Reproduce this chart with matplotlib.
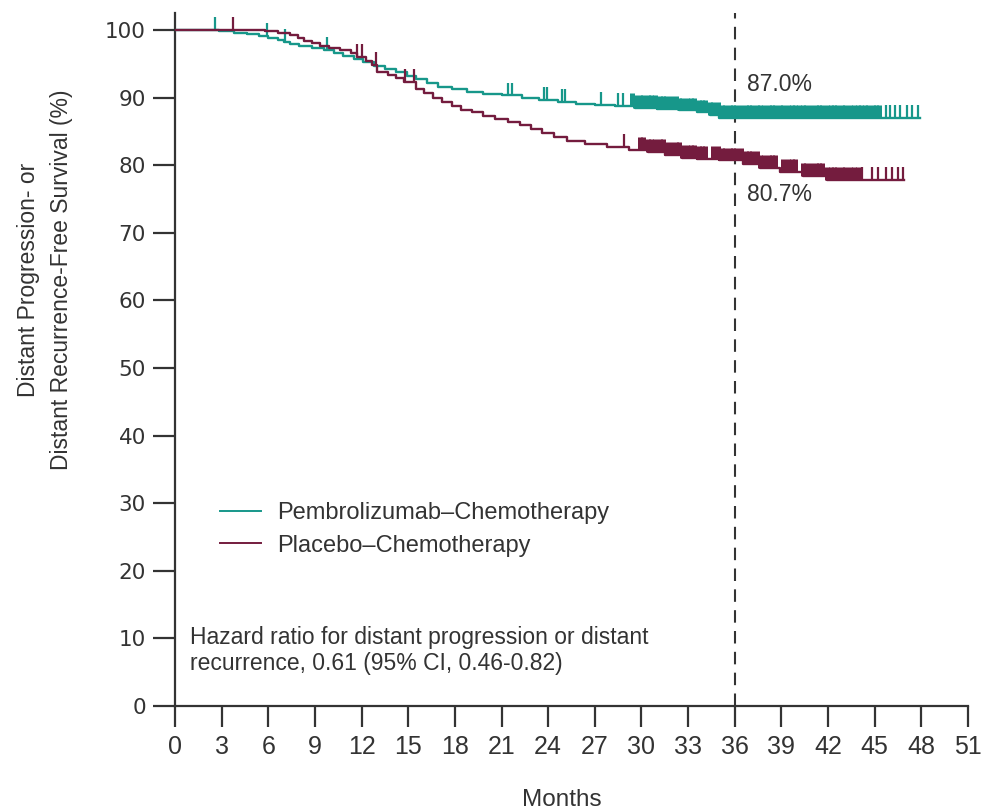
import numpy as np
import matplotlib
matplotlib.use("Agg")
import matplotlib.pyplot as plt
from matplotlib import font_manager

# ---------------- data ----------------
teal_t = [0, 2.8, 3.8, 4.6, 5.4, 6.0, 6.6, 7.0, 7.4, 8.0, 8.8, 9.6, 10.2, 10.8, 11.5, 12.1,
          12.8, 13.5, 14.2, 14.9, 15.5, 16.2, 16.9, 17.8, 18.8, 19.8, 21.0, 22.3, 23.4, 24.6,
          25.8, 27.0, 28.3, 29.6, 31.0, 32.4, 33.6, 34.4, 35.0]
teal_s = [100, 99.8, 99.6, 99.4, 99.1, 98.8, 98.5, 98.2, 97.9, 97.6, 97.3, 97.0, 96.6, 96.2,
          95.7, 95.2, 94.7, 94.2, 93.7, 93.2, 92.7, 92.2, 91.6, 91.2, 90.8, 90.5, 90.3, 89.9,
          89.6, 89.3, 89.1, 88.9, 88.7, 88.5, 88.3, 88.1, 87.8, 87.4, 87.0]
teal_end = 47.9

maroon_t = [0, 5.8, 6.6, 7.4, 7.9, 8.3, 8.8, 9.3, 9.9, 10.6, 11.3, 11.7, 12.3, 12.7, 13.0,
            13.7, 14.2, 14.7, 15.5, 16.0, 16.6, 17.2, 17.8, 18.4, 19.1, 19.8, 20.6, 21.4,
            22.2, 22.9, 23.6, 24.4, 25.2, 26.4, 27.8, 29.2, 30.4, 31.5, 32.6, 33.6, 35.0,
            36.5, 37.6, 38.9, 40.4, 41.9]
maroon_s = [100, 99.8, 99.5, 99.2, 98.8, 98.4, 98.0, 97.6, 97.3, 97.0, 96.6, 96.0, 95.4, 94.8,
            93.8, 93.4, 92.9, 92.3, 91.2, 90.6, 90.0, 89.4, 88.8, 88.2, 87.8, 87.3, 86.8,
            86.4, 86.0, 85.3, 84.7, 84.1, 83.5, 83.1, 82.7, 82.3, 81.9, 81.5, 81.1, 80.9,
            80.7, 80.2, 79.6, 79.0, 78.4, 77.8]
maroon_end = 46.9

# censored observations: isolated ones, then the dense run after ~29 months
teal_censor_sparse = [2.6, 5.9, 7.1, 9.8, 21.4, 21.7, 23.7, 23.9, 24.9, 25.1, 27.4, 28.5,
                      28.8, 45.7, 46.0, 46.3, 46.6, 47.1, 47.4, 47.8]
teal_censor_dense = [29.4, 29.6, 29.9, 30.1, 30.4, 30.6, 30.9, 31.2, 31.4, 31.6, 31.9, 32.2,
                     32.4, 32.6, 32.9, 33.2, 33.4, 33.7, 33.9, 34.1, 34.4, 34.6, 34.9, 35.2,
                     35.4, 35.7, 35.9, 36.1, 36.4, 36.7, 36.9, 37.1, 37.4, 37.6, 37.9, 38.2,
                     38.4, 38.6, 38.9, 39.1, 39.4, 39.7, 39.9, 40.1, 40.4, 40.6, 40.9, 41.2,
                     41.4, 41.6, 41.9, 42.2, 42.4, 42.6, 42.9, 43.1, 43.4, 43.7, 43.9, 44.1,
                     44.4, 44.6, 44.9, 45.1, 45.3]
maroon_censor_sparse = [3.7, 11.7, 12.0, 12.9, 14.8, 15.4, 28.9, 44.2, 44.8, 45.2, 45.7,
                        46.1, 46.5, 46.8]
maroon_censor_dense = [29.9, 30.1, 30.4, 30.6, 30.9, 31.2, 31.4, 31.6, 31.9, 32.2, 32.4,
                       32.6, 32.9, 33.2, 33.4, 33.7, 33.9, 34.1, 34.6, 34.9, 35.2, 35.4,
                       35.7, 35.9, 36.1, 36.4, 36.7, 36.9, 37.1, 37.4, 37.6, 37.9, 38.2,
                       38.4, 38.6, 39.1, 39.4, 39.7, 39.9, 40.4, 40.6, 40.9, 41.2, 41.4,
                       41.6, 41.9, 42.2, 42.4, 42.6, 42.9, 43.1, 43.4, 43.7, 43.9]

labels = ["Pembrolizumab\u2013Chemotherapy", "Placebo\u2013Chemotherapy"]
x_ticks = list(range(0, 52, 3))
y_ticks = list(range(0, 101, 10))
landmark = 36
landmark_labels = ["87.0%", "80.7%"]
hr_text = ("Hazard ratio for distant progression or distant\n"
           "recurrence, 0.61 (95% CI, 0.46-0.82)")

# ---------------- style ----------------
names = {f.name for f in font_manager.fontManager.ttflist}
narrow = "Liberation Sans Narrow" if "Liberation Sans Narrow" in names else "Liberation Sans"
plt.rcParams["font.family"] = [narrow, "DejaVu Sans"]

TEAL = "#17978a"
MAROON = "#741c3e"
TXT = "#333333"

fig = plt.figure(figsize=(9.82, 8.11), dpi=100)
ax = fig.add_axes([175 / 982, 1 - 706 / 811, (968 - 175) / 982, 693 / 811])
ax.set_xlim(0, 51)
ax.set_ylim(0, 102.5)


def surv_at(t, s, times):
    idx = np.searchsorted(np.asarray(t), np.asarray(times), side="right") - 1
    return np.asarray(s)[idx]


h = 1.9
for t, s, end, c_sp, c_de, col, lab in [
    (teal_t, teal_s, teal_end, teal_censor_sparse, teal_censor_dense, TEAL, labels[0]),
    (maroon_t, maroon_s, maroon_end, maroon_censor_sparse, maroon_censor_dense, MAROON, labels[1]),
]:
    xs = list(t) + [end]
    ys = list(s) + [s[-1]]
    ax.step(xs, ys, where="post", color=col, lw=1.7, label=lab, zorder=3)
    sv = surv_at(t, s, c_sp)
    ax.vlines(c_sp, sv, sv + h, color=col, lw=1.6, zorder=3)
    sv = surv_at(t, s, c_de)
    ax.vlines(c_de, sv, sv + h, color=col, lw=3.6, zorder=3)

ax.axvline(landmark, ymin=0, ymax=1, color="#333333", lw=1.5, ls=(0, (6, 4)), zorder=2)

ax.text(36.8, 91.9, landmark_labels[0], fontsize=16.5, color=TXT, va="center", ha="left")
ax.text(36.8, 75.6, landmark_labels[1], fontsize=16.5, color=TXT, va="center", ha="left")
ax.text(0.95, 8.2, hr_text, fontsize=16.5, color=TXT, va="center", ha="left", linespacing=1.2)

for sp in ["top", "right"]:
    ax.spines[sp].set_visible(False)
for sp in ["left", "bottom"]:
    ax.spines[sp].set_color("#333333")
    ax.spines[sp].set_linewidth(1.6)

ax.set_xticks(x_ticks)
ax.set_yticks(y_ticks)
ax.tick_params(axis="x", direction="out", length=15, width=1.6, color="#333333",
               labelsize=18, labelcolor=TXT, pad=6)
ax.tick_params(axis="y", direction="out", length=16, width=1.6, color="#333333",
               labelsize=15.5, labelcolor=TXT, pad=5)
for lbl in ax.get_yticklabels():
    lbl.set_fontfamily("DejaVu Sans")

leg = ax.legend(loc="upper left", bbox_to_anchor=(0.03, 0.325), frameon=False,
                fontsize=17, handlelength=1.75, handletextpad=0.65, labelspacing=0.45)
for txt in leg.get_texts():
    txt.set_color(TXT)
for line in leg.get_lines():
    line.set_linewidth(1.4)

fig.text(562 / 982, 1 - 800 / 811, "Months", fontsize=17.5, color=TXT, ha="center", va="center")
fig.text(45 / 982, 1 - 280 / 811, "Distant Progression- or\nDistant Recurrence-Free Survival (%)",
         fontsize=16.5, color=TXT, ha="center", va="center", rotation=90,
         multialignment="center", linespacing=1.6)

fig.savefig("out.png", dpi=100)
